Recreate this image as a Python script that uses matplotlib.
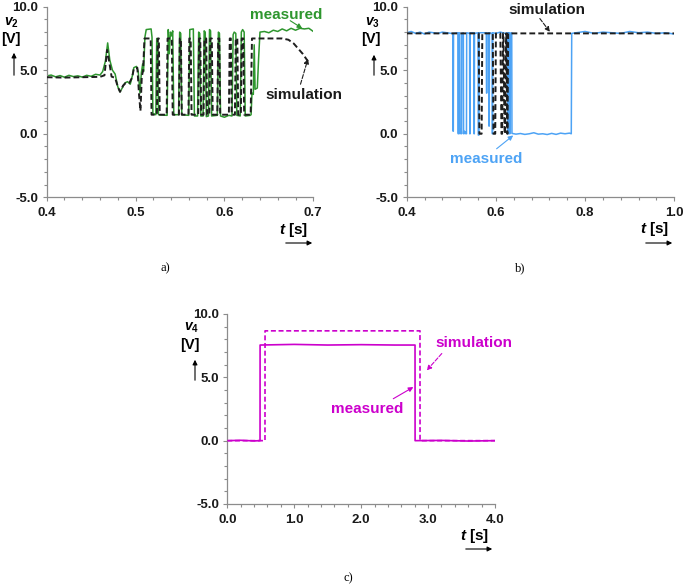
import matplotlib
matplotlib.use('Agg')
import matplotlib.pyplot as plt
from matplotlib.ticker import MultipleLocator, FormatStrFormatter

plt.rcParams['font.family'] = ['Liberation Sans', 'DejaVu Sans']
plt.rcParams['font.weight'] = 'bold'
plt.rcParams['axes.unicode_minus'] = False
plt.rcParams['mathtext.fontset'] = 'custom'
plt.rcParams['mathtext.it'] = 'Liberation Sans:italic:bold'
plt.rcParams['mathtext.rm'] = 'Liberation Sans:bold'
plt.rcParams['mathtext.bf'] = 'Liberation Sans:bold'

# ---------------- data: panel a (v2) ----------------
meas_a_t = [0.400, 0.405, 0.410, 0.415, 0.420, 0.425, 0.430, 0.435, 0.440, 0.445, 0.450, 0.455,
            0.460, 0.463, 0.466, 0.4686, 0.471, 0.474, 0.477, 0.480, 0.4825, 0.485, 0.488, 0.491,
            0.494, 0.4965, 0.498, 0.501, 0.503, 0.505, 0.5065, 0.508, 0.509, 0.5105, 0.512, 0.5175,
            0.5185, 0.5195, 0.5228, 0.5238, 0.5248, 0.5258, 0.5355, 0.5368, 0.5380, 0.5392, 0.5405,
            0.5418, 0.5430, 0.5484, 0.5496, 0.5508, 0.5520, 0.5598, 0.5610, 0.5650, 0.5662, 0.5698,
            0.5710, 0.5722, 0.5734, 0.5760, 0.5772, 0.5784, 0.5796, 0.5820, 0.5832, 0.5844, 0.5856,
            0.5920, 0.5932, 0.5944, 0.5956, 0.600, 0.605, 0.6085, 0.6098, 0.6110, 0.6128, 0.6140,
            0.6178, 0.6190, 0.6205, 0.6222, 0.6234, 0.6290, 0.6300, 0.6310, 0.6325, 0.6335, 0.6345,
            0.6370, 0.6385, 0.6400, 0.645, 0.650, 0.655, 0.660, 0.665, 0.670, 0.675, 0.680, 0.685,
            0.690, 0.695, 0.700]
meas_a_v = [4.55, 4.62, 4.48, 4.58, 4.45, 4.60, 4.50, 4.56, 4.46, 4.60, 4.52, 4.68,
            4.62, 4.90, 5.70, 7.15, 5.80, 5.00, 4.70, 3.70, 3.30, 3.60, 4.00, 4.10,
            3.90, 4.60, 5.20, 5.30, 4.90, 3.20, 4.80, 5.50, 4.90, 7.60, 8.20, 8.25,
            7.60, 1.60, 1.50, 7.50, 7.40, 1.50, 1.45, 8.20, 6.30, 8.00, 7.70,
            8.10, 1.50, 1.50, 8.00, 7.90, 1.50, 1.45, 8.20, 8.25, 1.40, 1.40,
            8.00, 7.90, 1.40, 1.40, 8.10, 8.00, 1.35, 1.40, 8.20, 8.10, 1.40,
            1.45, 8.00, 7.90, 1.40, 1.30, 1.45, 1.40, 7.80, 8.00, 7.90, 1.45,
            1.40, 8.00, 8.20, 8.00, 1.40, 1.45, 1.50, 3.20, 3.10, 7.00, 3.50,
            3.60, 6.00, 8.00, 8.05, 7.95, 8.15, 8.05, 8.25, 8.10, 8.30, 8.15, 8.30,
            8.25, 8.30, 8.05]

sim_a_t = [0.400, 0.420, 0.440, 0.460, 0.465, 0.468, 0.4705, 0.473, 0.477, 0.480, 0.4825, 0.486,
           0.489, 0.493, 0.496, 0.498, 0.502, 0.5040, 0.5055, 0.5070, 0.5085, 0.5100, 0.5170,
           0.5180, 0.5240, 0.5250, 0.5262, 0.5272, 0.5350, 0.5360, 0.5408, 0.5418, 0.5488, 0.5498,
           0.5510, 0.5520, 0.5595, 0.5605, 0.5620, 0.5630, 0.5705, 0.5715, 0.5728, 0.5738, 0.5765,
           0.5775, 0.5795, 0.5805, 0.5830, 0.5840, 0.5858, 0.5868, 0.5920, 0.5930, 0.5942, 0.5952,
           0.6050, 0.6060, 0.6072, 0.6082, 0.6118, 0.6128, 0.6145, 0.6155, 0.6185, 0.6195, 0.6212,
           0.6222, 0.6295, 0.6310, 0.6650, 0.6720, 0.6780, 0.6830, 0.6880, 0.6920, 0.6960]
sim_a_v = [4.45, 4.42, 4.45, 4.48, 4.60, 6.60, 5.60, 4.50, 4.40, 3.70, 3.30, 3.80,
           4.00, 4.00, 4.40, 5.10, 5.20, 3.00, 1.80, 4.50, 5.00, 7.50, 7.50,
           1.50, 1.50, 7.50, 7.50, 1.50, 1.50, 7.50, 7.50, 1.50, 1.50, 7.50,
           7.50, 1.50, 1.50, 7.50, 7.50, 1.50, 1.50, 7.50, 7.50, 1.50, 1.50,
           7.50, 7.50, 1.50, 1.50, 7.50, 7.50, 1.50, 1.50, 7.50, 7.50, 1.50,
           1.50, 7.50, 7.50, 1.50, 1.50, 7.50, 7.50, 1.50, 1.50, 7.50, 7.50,
           1.50, 1.50, 7.50, 7.50, 7.40, 7.10, 6.70, 6.30, 5.90, 5.50]

# ---------------- data: panel b (v3) ----------------
meas_b_t = [0.400, 0.410, 0.420, 0.430, 0.440, 0.450, 0.460, 0.470, 0.480, 0.490, 0.500,
            0.5035, 0.5040, 0.5045, 0.5050,
            0.5150, 0.5155, 0.5160, 0.5165,
            0.5190, 0.5195, 0.5210, 0.5220, 0.5230, 0.5235,
            0.5270, 0.5275, 0.5295, 0.5310, 0.5325, 0.5340, 0.5345,
            0.5410, 0.5415, 0.5420, 0.5425,
            0.5505, 0.5510, 0.5515, 0.5520,
            0.5600, 0.5605, 0.5620, 0.5625,
            0.5785, 0.5790, 0.5795, 0.5800,
            0.5840, 0.5845, 0.5850, 0.5855,
            0.5915, 0.5920, 0.5925, 0.5930,
            0.6000, 0.6100, 0.6200,
            0.6270, 0.6275, 0.6280, 0.6285,
            0.6305, 0.6310, 0.6315, 0.6320,
            0.6355, 0.6360, 0.645, 0.655, 0.665, 0.675, 0.685, 0.695, 0.705, 0.715, 0.725,
            0.735, 0.745, 0.755, 0.765, 0.7690, 0.7700,
            0.780, 0.800, 0.820, 0.840, 0.860, 0.880, 0.900, 0.920, 0.940, 0.960, 0.980, 1.000]
meas_b_v = [7.95, 8.05, 7.90, 8.00, 7.85, 8.00, 7.95, 7.90, 8.00, 7.95, 7.90,
            7.90, 0.20, 0.20, 7.90,
            7.95, 0.00, 0.00, 7.90,
            7.95, 0.00, 0.05, 0.40, 0.00, 7.90,
            7.95, 0.00, 0.20, 0.00, 0.15, 0.00, 7.95,
            7.90, 0.00, 0.00, 7.95,
            7.95, 0.00, 0.00, 7.90,
            7.95, -0.10, -0.10, 7.95,
            7.95, 3.20, 3.20, 7.90,
            7.95, 0.60, 0.60, 7.95,
            7.90, 0.00, 0.00, 7.95,
            7.90, 8.00, 7.90,
            7.95, 0.00, 0.00, 7.95,
            7.95, 0.00, 0.00, 7.90,
            7.95, 0.03, -0.03, 0.02, -0.05, 0.00, 0.08, -0.03, 0.00, -0.06, 0.03,
            -0.05, 0.05, 0.00, 0.05, 0.00, 7.90,
            7.95, 8.05, 7.90, 8.00, 7.95, 7.90, 8.05, 7.95, 8.00, 7.90, 7.95, 7.85]

sim_b_t = [0.400, 0.5615, 0.5630, 0.5680, 0.5695, 0.5930, 0.5945, 0.5985, 0.6000, 0.6100,
           0.6125, 0.6140, 0.6160, 0.6170, 0.6195, 0.6205, 0.6230, 0.6235, 0.6255, 0.6260,
           0.6275, 1.000]
sim_b_v = [7.90, 7.90, 0.00, 0.00, 7.90, 7.90, 0.00, 0.00, 7.90, 7.90,
           0.00, 0.00, 7.90, 7.90, 0.00, 0.00, 7.90, 7.90, 0.00, 0.00,
           7.90, 7.90]

# ---------------- data: panel c (v4) ----------------
meas_c_t = [0.0, 0.2, 0.4, 0.489, 0.490, 1.0, 1.5, 2.0, 2.5, 2.805, 2.806, 3.2, 3.6, 4.0]
meas_c_v = [0.0, 0.03, -0.02, 0.0, 7.55, 7.60, 7.55, 7.58, 7.55, 7.55, 0.0, 0.02, -0.03, 0.0]
sim_c_t = [0.0, 0.563, 0.564, 2.879, 2.880, 4.0]
sim_c_v = [0.0, 0.0, 8.67, 8.67, 0.0, 0.0]

GREEN = '#2e962e'
BLUE = '#4da3f5'
MAG = '#cc00cc'
SIMK = '#1e1e1e'
SPINE = '#8c8c8c'

W, H = 685, 587
fig = plt.figure(figsize=(W / 100, H / 100), dpi=100)


def axes_px(x0, x1, ytop, ybot):
    return fig.add_axes([x0 / W, 1 - ybot / H, (x1 - x0) / W, (ybot - ytop) / H])


def fp(x, y):
    return (x / W, 1 - y / H)


def style(ax, xlim, xmaj, xmin, xfmt):
    ax.set_xlim(xlim)
    ax.set_ylim(-5, 10)
    ax.xaxis.set_major_locator(MultipleLocator(xmaj))
    ax.xaxis.set_minor_locator(MultipleLocator(xmin))
    ax.yaxis.set_major_locator(MultipleLocator(5))
    ax.yaxis.set_minor_locator(MultipleLocator(1))
    ax.xaxis.set_major_formatter(FormatStrFormatter(xfmt))
    ax.yaxis.set_major_formatter(FormatStrFormatter('%.1f'))
    for s in ['top', 'right']:
        ax.spines[s].set_visible(False)
    for s in ['left', 'bottom']:
        ax.spines[s].set_color(SPINE)
        ax.spines[s].set_linewidth(0.9)
    ax.tick_params(which='both', direction='out', color=SPINE, width=0.8,
                   labelsize=9.5, labelcolor='#1a1a1a')
    ax.tick_params(which='major', length=3)
    ax.tick_params(which='minor', length=2)
    ax.tick_params(axis='x', pad=4)
    ax.tick_params(axis='y', pad=3)
    ax.patch.set_alpha(0)


def axis_labels(vlab, vpos, bpos, arr_x, arr_y0, arr_y1, tpos, tarr_x0, tarr_x1, tarr_y):
    fig.text(*fp(*vpos), vlab, fontsize=10, ha='center', va='center')
    fig.text(*fp(*bpos), '[V]', fontsize=10.5, ha='center', va='center')
    fig.add_artist(matplotlib.patches.FancyArrowPatch(
        fp(arr_x, arr_y0), fp(arr_x, arr_y1), transform=fig.transFigure,
        arrowstyle='-|>', mutation_scale=7, lw=0.8, color='black'))
    fig.text(*fp(*tpos), r'$t$ [s]', fontsize=11, ha='center', va='center')
    fig.add_artist(matplotlib.patches.FancyArrowPatch(
        fp(tarr_x0, tarr_y), fp(tarr_x1, tarr_y), transform=fig.transFigure,
        arrowstyle='-|>', mutation_scale=7, lw=0.8, color='black'))


def arrow(ax, tail, tip, color, dashed=False):
    ax.annotate('', xy=tip, xytext=tail, annotation_clip=False,
                arrowprops=dict(arrowstyle='-|>', color=color, lw=0.8,
                                mutation_scale=7, shrinkA=0, shrinkB=0,
                                linestyle='--' if dashed else '-'))


# ---------------- panel a ----------------
axa = axes_px(46.7, 313.3, 6.7, 197.3)
style(axa, (0.4, 0.7), 0.1, 0.02, '%.1f')
axa.plot(meas_a_t, meas_a_v, color=GREEN, lw=1.1, zorder=2)
axa.plot(sim_a_t, sim_a_v, color=SIMK, lw=1.4, dashes=(3, 1.6), zorder=3)
axa.text(0.670, 9.34, 'measured', color=GREEN, fontsize=11, ha='center', va='center')
arrow(axa, (0.674, 8.9), (0.6875, 8.3), GREEN)
axa.text(0.690, 3.02, 'simulation', color='#1a1a1a', fontsize=11, ha='center', va='center')
arrow(axa, (0.6856, 3.9), (0.694, 5.9), SIMK, dashed=True)
axis_labels(r'$v_2$', (11.5, 23), (11, 39), 14, 78, 50, (294, 230), 283, 315, 243)

# ---------------- panel b ----------------
axb = axes_px(406.7, 674.3, 6.7, 197.3)
style(axb, (0.4, 1.0), 0.2, 0.04, '%.1f')
axb.plot(meas_b_t, meas_b_v, color=BLUE, lw=1.1, zorder=2)
axb.plot(sim_b_t, sim_b_v, color=SIMK, lw=1.4, dashes=(3, 1.6), zorder=3)
axb.text(0.5787, -1.95, 'measured', color=BLUE, fontsize=11, ha='center', va='center')
arrow(axb, (0.6016, -1.18), (0.6388, -0.13), BLUE)
axb.text(0.7135, 9.73, 'simulation', color='#1a1a1a', fontsize=11, ha='center', va='center')
arrow(axb, (0.6985, 9.07), (0.721, 8.02), SIMK, dashed=True)
axis_labels(r'$v_3$', (372, 23), (371, 39), 374, 78, 52, (655, 229), 643, 675, 243)

# ---------------- panel c ----------------
axc = axes_px(227.3, 495.0, 314.0, 504.0)
style(axc, (0.0, 4.0), 1.0, 0.2, '%.1f')
axc.plot(meas_c_t, meas_c_v, color=MAG, lw=1.2, zorder=2)
axc.plot(sim_c_t, sim_c_v, color=MAG, lw=1.2, dashes=(3, 1.6), zorder=3)
axc.text(3.68, 7.72, 'simulation', color=MAG, fontsize=11, ha='center', va='center')
arrow(axc, (3.205, 6.88), (2.98, 5.55), MAG, dashed=True)
axc.text(2.084, 2.52, 'measured', color=MAG, fontsize=11, ha='center', va='center')
arrow(axc, (2.48, 3.31), (2.78, 4.23), MAG)
axis_labels(r'$v_4$', (192, 328), (190, 345), 195, 383, 357, (475, 536), 463, 495, 549)

# panel letters
for s, (x, y) in [('a)', (165, 268)), ('b)', (520, 268)), ('c)', (348, 578))]:
    fig.text(*fp(x, y), s, fontsize=9, ha='center', va='center',
             family=['Liberation Serif', 'DejaVu Serif'], weight='normal')

fig.savefig('out.png', dpi=100)
